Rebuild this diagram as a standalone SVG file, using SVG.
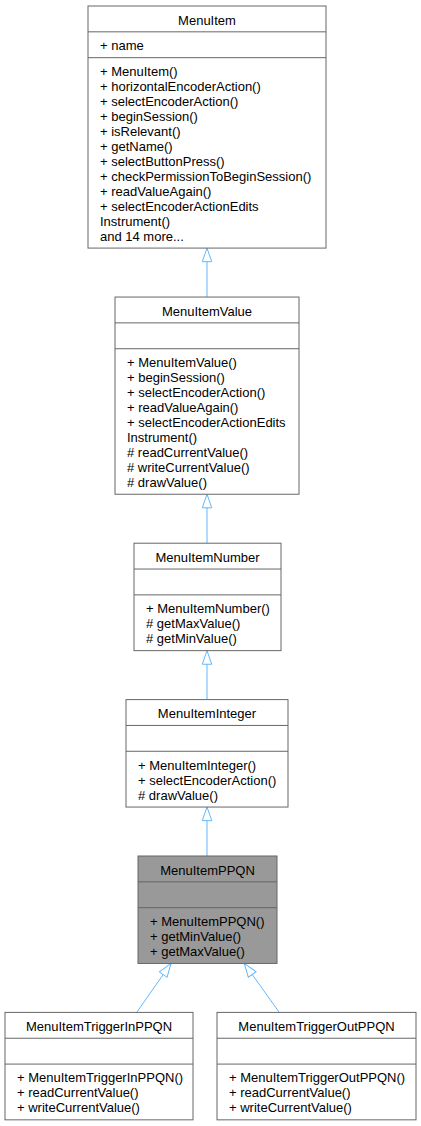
<svg xmlns="http://www.w3.org/2000/svg" width="421" height="1126" viewBox="0 0 421 1126">
<style>
.box{fill:#ffffff;stroke:#666666;stroke-width:1}
.sel{fill:#999999}
.sep{stroke:#666666;stroke-width:1}
text{font-family:"Liberation Sans",Arial,Helvetica,sans-serif;font-size:13px;fill:#000000}
.t{text-anchor:middle}
.edge{stroke:#63b8ff;stroke-width:1;fill:none}
</style>
<defs>
<marker id="inh" markerUnits="userSpaceOnUse" markerWidth="16" markerHeight="12" viewBox="-1 -6 16 12" refX="13.6" refY="0" orient="auto">
<path d="M0,-4.76 L13.6,0 L0,4.76 Z" fill="#ffffff" stroke="#63b8ff" stroke-width="1"/>
</marker>
</defs>
<rect width="421" height="1126" fill="#ffffff"/>

<g id="edges">
<line class="edge" x1="207" y1="297.04" x2="207" y2="248.08" marker-end="url(#inh)"/>
<line class="edge" x1="207" y1="543.2" x2="207" y2="494.24" marker-end="url(#inh)"/>
<line class="edge" x1="207" y1="699.6" x2="207" y2="650.64" marker-end="url(#inh)"/>
<line class="edge" x1="207" y1="856" x2="207" y2="807.04" marker-end="url(#inh)"/>
<line class="edge" x1="136.7" y1="1012.4" x2="171" y2="963.44" marker-end="url(#inh)"/>
<line class="edge" x1="279.3" y1="1012.4" x2="244.3" y2="963.44" marker-end="url(#inh)"/>
</g>

<g id="MenuItem">
<rect class="box" x="88" y="6" width="238" height="242.08"/>
<line class="sep" x1="88" y1="31.84" x2="326" y2="31.84"/>
<line class="sep" x1="88" y1="57.68" x2="326" y2="57.68"/>
<text class="t" x="207" y="24.5">MenuItem</text>
<text x="100" y="50.1">+ name</text>
<text x="100" y="76">+ MenuItem()</text>
<text x="100" y="90.96">+ horizontalEncoderAction()</text>
<text x="100" y="105.92">+ selectEncoderAction()</text>
<text x="100" y="120.88">+ beginSession()</text>
<text x="100" y="135.84">+ isRelevant()</text>
<text x="100" y="150.8">+ getName()</text>
<text x="100" y="165.76">+ selectButtonPress()</text>
<text x="100" y="180.72">+ checkPermissionToBeginSession()</text>
<text x="100" y="195.68">+ readValueAgain()</text>
<text x="100" y="210.64">+ selectEncoderActionEdits</text>
<text x="100" y="225.6">Instrument()</text>
<text x="100" y="240.56">and 14 more...</text>
</g>

<g id="MenuItemValue">
<rect class="box" x="115" y="297.04" width="184" height="197.2"/>
<line class="sep" x1="115" y1="322.88" x2="299" y2="322.88"/>
<line class="sep" x1="115" y1="348.72" x2="299" y2="348.72"/>
<text class="t" x="207" y="315.5">MenuItemValue</text>
<text x="127" y="367">+ MenuItemValue()</text>
<text x="127" y="381.96">+ beginSession()</text>
<text x="127" y="396.92">+ selectEncoderAction()</text>
<text x="127" y="411.88">+ readValueAgain()</text>
<text x="127" y="426.84">+ selectEncoderActionEdits</text>
<text x="127" y="441.8">Instrument()</text>
<text x="127" y="456.76"># readCurrentValue()</text>
<text x="127" y="471.72"># writeCurrentValue()</text>
<text x="127" y="486.68"># drawValue()</text>
</g>

<g id="MenuItemNumber">
<rect class="box" x="134" y="543.2" width="147" height="107.44"/>
<line class="sep" x1="134" y1="569.04" x2="281" y2="569.04"/>
<line class="sep" x1="134" y1="594.88" x2="281" y2="594.88"/>
<text class="t" x="207.5" y="561.7">MenuItemNumber</text>
<text x="146" y="613.2">+ MenuItemNumber()</text>
<text x="146" y="628.16"># getMaxValue()</text>
<text x="146" y="643.12"># getMinValue()</text>
</g>

<g id="MenuItemInteger">
<rect class="box" x="126" y="699.6" width="162" height="107.44"/>
<line class="sep" x1="126" y1="725.44" x2="288" y2="725.44"/>
<line class="sep" x1="126" y1="751.28" x2="288" y2="751.28"/>
<text class="t" x="207" y="718.1">MenuItemInteger</text>
<text x="138" y="769.6">+ MenuItemInteger()</text>
<text x="138" y="784.56">+ selectEncoderAction()</text>
<text x="138" y="799.52"># drawValue()</text>
</g>

<g id="MenuItemPPQN">
<rect class="box sel" x="138" y="856" width="139" height="107.44"/>
<line class="sep" x1="138" y1="881.84" x2="277" y2="881.84"/>
<line class="sep" x1="138" y1="907.68" x2="277" y2="907.68"/>
<text class="t" x="207.5" y="874.5">MenuItemPPQN</text>
<text x="150" y="926">+ MenuItemPPQN()</text>
<text x="150" y="940.96">+ getMinValue()</text>
<text x="150" y="955.92">+ getMaxValue()</text>
</g>

<g id="MenuItemTriggerInPPQN">
<rect class="box" x="5" y="1012.4" width="188" height="107.44"/>
<line class="sep" x1="5" y1="1038.24" x2="193" y2="1038.24"/>
<line class="sep" x1="5" y1="1064.08" x2="193" y2="1064.08"/>
<text class="t" x="99" y="1030.9">MenuItemTriggerInPPQN</text>
<text x="17" y="1082.4">+ MenuItemTriggerInPPQN()</text>
<text x="17" y="1097.36">+ readCurrentValue()</text>
<text x="17" y="1112.32">+ writeCurrentValue()</text>
</g>

<g id="MenuItemTriggerOutPPQN">
<rect class="box" x="217" y="1012.4" width="199" height="107.44"/>
<line class="sep" x1="217" y1="1038.24" x2="416" y2="1038.24"/>
<line class="sep" x1="217" y1="1064.08" x2="416" y2="1064.08"/>
<text class="t" x="316.5" y="1030.9">MenuItemTriggerOutPPQN</text>
<text x="229" y="1082.4">+ MenuItemTriggerOutPPQN()</text>
<text x="229" y="1097.36">+ readCurrentValue()</text>
<text x="229" y="1112.32">+ writeCurrentValue()</text>
</g>
</svg>
